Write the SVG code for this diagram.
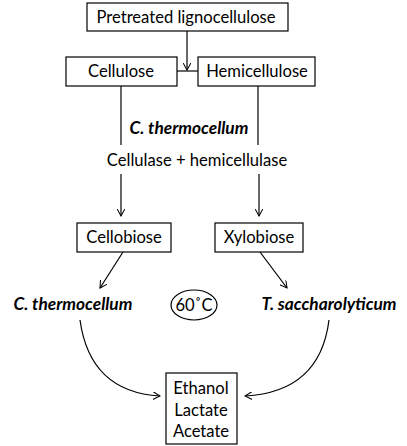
<svg xmlns="http://www.w3.org/2000/svg" width="407" height="446" viewBox="0 0 407 446">
<defs>
<marker id="ah" viewBox="0 0 10 10" refX="9" refY="5" markerWidth="8" markerHeight="8" markerUnits="userSpaceOnUse" orient="auto">
<path d="M0,0 L9,5 L0,10" fill="none" stroke="#000" stroke-width="1.3"/>
</marker>
<style>
.box{fill:#fff;stroke:#000;stroke-width:1.2}
.t{font-family:Lato,"Open Sans","Liberation Sans",sans-serif;font-size:16.6px;fill:#000;text-anchor:middle}
.bi{font-weight:bold;font-style:italic;font-size:17.3px}
.ln{fill:none;stroke:#000;stroke-width:1.2}
</style>
</defs>
<rect width="407" height="446" fill="#fff"/>
<g id="connectors">
<path class="ln" d="M187,31 V70" marker-end="url(#ah)"/>
<path class="ln" d="M177,71 H198"/>
<path class="ln" d="M121,86 V145"/>
<path class="ln" d="M258,86 V145"/>
<path class="ln" d="M121,174 V216" marker-end="url(#ah)"/>
<path class="ln" d="M259,174 V216" marker-end="url(#ah)"/>
<path class="ln" d="M123,252 L100,288" marker-end="url(#ah)"/>
<path class="ln" d="M260,252 L287,288" marker-end="url(#ah)"/>
<path class="ln" d="M80,320 Q90,392 160,396" marker-end="url(#ah)"/>
<path class="ln" d="M329,320 Q320,392 245,396" marker-end="url(#ah)"/>
</g>
<g id="pretreated">
<rect class="box" x="87" y="3" width="201" height="28"/>
<text class="t" x="186" y="23">Pretreated lignocellulose</text>
</g>
<g id="cellulose">
<rect class="box" x="66" y="57" width="111" height="29"/>
<text class="t" x="121" y="77">Cellulose</text>
</g>
<g id="hemicellulose">
<rect class="box" x="198" y="57" width="117" height="29"/>
<text class="t" x="257" y="77">Hemicellulose</text>
</g>
<g id="enzyme">
<text class="t bi" x="189" y="134">C. thermocellum</text>
<text class="t" x="197" y="166">Cellulase + hemicellulase</text>
</g>
<g id="cellobiose">
<rect class="box" x="77" y="223" width="94" height="29"/>
<text class="t" x="124" y="243">Cellobiose</text>
</g>
<g id="xylobiose">
<rect class="box" x="215" y="223" width="88" height="29"/>
<text class="t" x="259" y="243">Xylobiose</text>
</g>
<g id="cthermo">
<text class="t bi" x="73" y="310">C. thermocellum</text>
</g>
<g id="temp">
<ellipse class="box" cx="194" cy="305" rx="23" ry="15"/>
<text class="t" x="194" y="311">60˚C</text>
</g>
<g id="tsacch">
<text class="t bi" x="329" y="310">T. saccharolyticum</text>
</g>
<g id="products">
<rect class="box" x="166" y="373" width="71" height="71"/>
<text class="t" x="201" y="394">Ethanol</text>
<text class="t" x="201" y="416">Lactate</text>
<text class="t" x="201" y="437">Acetate</text>
</g>
</svg>
